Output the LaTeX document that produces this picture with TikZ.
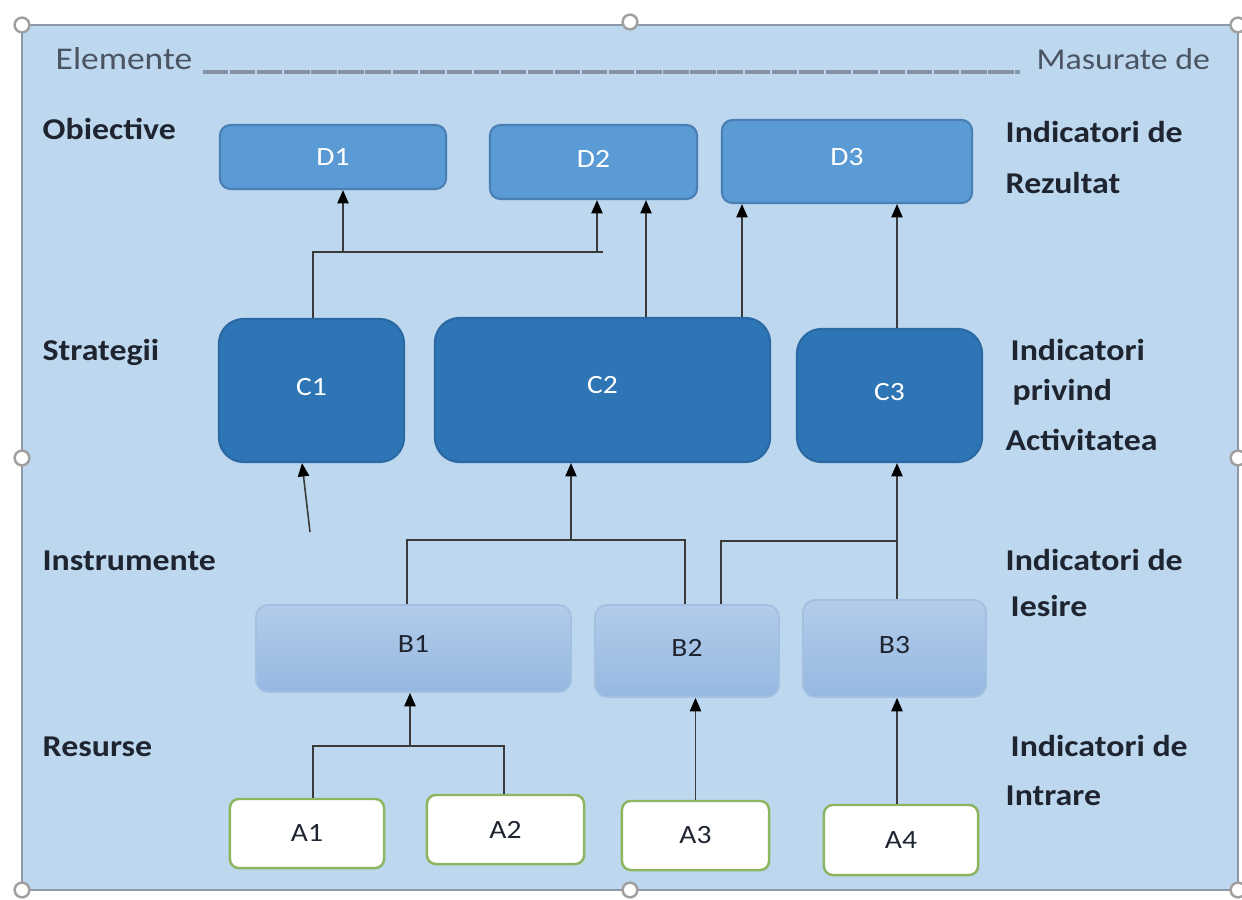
\documentclass[tikz,border=0pt]{standalone}
\usepackage{fontspec}
\setmainfont{Carlito}[FakeStretch=1.12]
\usetikzlibrary{arrows.meta}
\definecolor{bgfill}{HTML}{BDD7EE}
\definecolor{bgline}{HTML}{8A98A8}
\definecolor{dfill}{HTML}{5B9BD5}
\definecolor{dline}{HTML}{4A7FB5}
\definecolor{cfill}{HTML}{2E75B6}
\definecolor{cline}{HTML}{2A69A3}
\definecolor{btop}{HTML}{B3CCEA}
\definecolor{bbot}{HTML}{95B8E1}
\definecolor{bline}{HTML}{A3BFE2}
\definecolor{aline}{HTML}{8DB560}
\definecolor{conncol}{HTML}{3A3A3A}
\definecolor{labcol}{HTML}{1F2530}
\definecolor{headcol}{HTML}{4A5462}
\definecolor{rulecol}{HTML}{8592A6}
\begin{document}
\begin{tikzpicture}[x=0.01cm,y=-0.01cm,
  lab/.style={anchor=base west,inner sep=0pt,text=labcol,font=\fontsize{8.6}{10}\selectfont\bfseries},
  head/.style={anchor=base west,inner sep=0pt,text=headcol,font=\fontsize{9}{10}\selectfont},
  dbox/.style={draw=dline,line width=0.6pt,fill=dfill,rounded corners=3pt,text=white,font=\fontsize{7.5}{9}\selectfont,inner sep=0pt},
  cbox/.style={draw=cline,line width=0.6pt,fill=cfill,rounded corners=7pt,text=white,font=\fontsize{7.5}{9}\selectfont,inner sep=0pt},
  bbox/.style={draw=bline,line width=0.5pt,top color=btop,bottom color=bbot,rounded corners=3.5pt,text=labcol,font=\fontsize{7.5}{9}\selectfont,inner sep=0pt},
  abox/.style={draw=aline,line width=0.7pt,fill=white,rounded corners=2.5pt,text=labcol,font=\fontsize{7.5}{9}\selectfont,inner sep=0pt},
  conn/.style={draw=conncol,line width=0.45pt},
  arr/.style={conn,-{Triangle[length=3.8pt,width=3.2pt,color=black]}},
  handle/.style={circle,draw=gray!75,line width=0.7pt,fill=white,minimum size=4.2pt,inner sep=0pt}
]
\useasboundingbox (0,0) rectangle (1242,900);
\fill[white] (0,0) rectangle (1242,900);
% background panel
\draw[fill=bgfill,draw=bgline,line width=0.6pt] (22,25) rectangle (1238,890);

% header
\node[head] (hElem) at (55,69) {Elemente};
\node[head,font=\fontsize{8.6}{10}\selectfont] (hMas) at (1036,69) {Masurate de};
\draw[rulecol,line width=1pt,dash pattern=on 7.2pt off 0.5pt] (203,72) -- (1020,72);

% left labels
\node[lab] (lObj) at (42,139) {Obiective};
\node[lab] (lStr) at (42,360) {Strategii};
\node[lab] (lIns) at (42,570) {Instrumente};
\node[lab] (lRes) at (42,756) {Resurse};
% right labels
\node[lab] (r1a) at (1005,143) {Indicatori de};
\node[lab] (r1b) at (1005,193) {Rezultat};
\node[lab] (r2a) at (1010,360) {Indicatori};
\node[lab] (r2b) at (1012,400) {privind};
\node[lab] (r2c) at (1005,450) {Activitatea};
\node[lab] (r3a) at (1005,570) {Indicatori de};
\node[lab] (r3b) at (1010,616) {Iesire};
\node[lab] (r4a) at (1010,756) {Indicatori de};
\node[lab] (r4b) at (1005,805) {Intrare};

% D boxes
\node[dbox,minimum width=2.26cm,minimum height=0.64cm] (D1) at (333,157) {D1};
\node[dbox,minimum width=2.07cm,minimum height=0.74cm] (D2) at (593.5,162) {\raisebox{1.5pt}{D2}};
\node[dbox,minimum width=2.50cm,minimum height=0.83cm] (D3) at (847,161.5) {\raisebox{2.5pt}{D3}};
% C boxes
\node[cbox,minimum width=1.85cm,minimum height=1.43cm] (C1) at (311.5,390.5) {\raisebox{2.3pt}{C1}};
\node[cbox,minimum width=3.35cm,minimum height=1.44cm] (C2) at (602.5,390) {\raisebox{2.8pt}{C2}};
\node[cbox,minimum width=1.85cm,minimum height=1.33cm] (C3) at (889.5,395.5) {\raisebox{2pt}{C3}};
% B boxes
\node[bbox,minimum width=3.15cm,minimum height=0.87cm] (B1) at (413.5,648.5) {\raisebox{2.3pt}{B1}};
\node[bbox,minimum width=1.84cm,minimum height=0.92cm] (B2) at (687,651) {\raisebox{1.5pt}{B2}};
\node[bbox,minimum width=1.83cm,minimum height=0.97cm] (B3) at (894.5,648.5) {\raisebox{2.3pt}{B3}};
% A boxes
\node[abox,minimum width=1.54cm,minimum height=0.69cm] (A1) at (307,833.5) {A1};
\node[abox,minimum width=1.57cm,minimum height=0.69cm] (A2) at (505.5,829.5) {A2};
\node[abox,minimum width=1.47cm,minimum height=0.69cm] (A3) at (695.5,835.5) {A3};
\node[abox,minimum width=1.54cm,minimum height=0.70cm] (A4) at (901,840) {A4};

% helper coordinates
\coordinate (x313) at (313,0);
\coordinate (x407) at (407,0);
\coordinate (x504) at (504,0);
\coordinate (x646) at (646,0);
\coordinate (x685) at (685,0);
\coordinate (x721) at (721,0);
\coordinate (x742) at (742,0);
\coordinate (x897) at (897,0);
\coordinate (x302) at (302,0);
\coordinate (jD1) at (343,252);
\coordinate (jD2) at (597,252);
\coordinate (jDend) at (603,252);
\coordinate (jB) at (571,540);
\coordinate (jB3) at (897,541);
\coordinate (jA) at (410,746);
\coordinate (c1in) at (310,532);

% C -> D
\draw[conn] (C1.north -| x313) -- (x313 |- jD1) -- (jDend);
\draw[arr] (jD1) -- (jD1 |- D1.south);
\draw[arr] (jD2) -- (jD2 |- D2.south);
\draw[arr] (C2.north -| x646) -- (D2.south -| x646);
\draw[arr] (C2.north -| x742) -- (D3.south -| x742);
\draw[arr] (C3.north -| x897) -- (D3.south -| x897);
% into C1 (free end)
\draw[arr] (c1in) -- (C1.south -| x302);
% B -> C
\draw[conn] (B1.north -| x407) -- (x407 |- jB) -- (x685 |- jB) -- (B2.north -| x685);
\draw[arr] (jB) -- (jB |- C2.south);
\draw[conn] (B2.north -| x721) -- (x721 |- jB3) -- (jB3);
\draw[arr] (B3.north -| x897) -- (C3.south -| x897);
% A -> B
\draw[conn] (A1.north -| x313) -- (x313 |- jA) -- (x504 |- jA) -- (A2.north -| x504);
\draw[arr] (jA) -- (jA |- B1.south);
\draw[arr] (A3.north) -- (A3.north |- B2.south);
\draw[arr] (A4.north -| x897) -- (B3.south -| x897);

% selection handles
\node[handle] (h1) at (22,25) {};
\node[handle] (h2) at (630,22) {};
\node[handle] (h3) at (1238,25) {};
\node[handle] (h4) at (22,458) {};
\node[handle] (h5) at (1238,458) {};
\node[handle] (h6) at (22,890) {};
\node[handle] (h7) at (630,890) {};
\node[handle] (h8) at (1238,890) {};
\end{tikzpicture}
\end{document}
